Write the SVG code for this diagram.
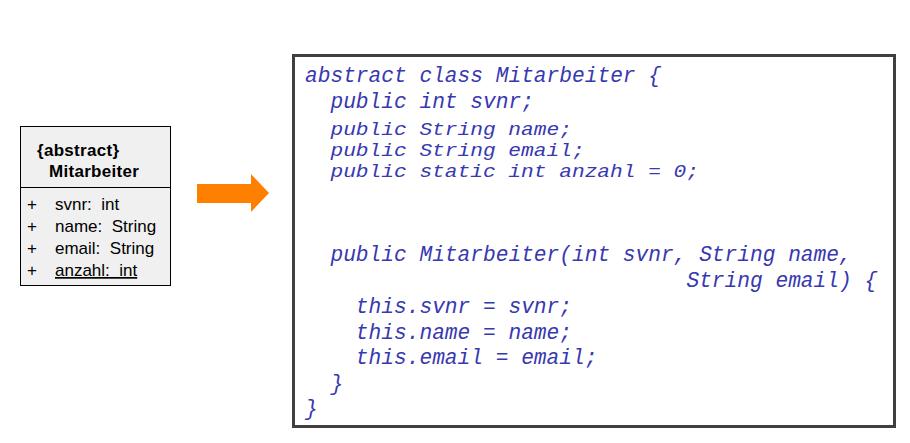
<svg xmlns="http://www.w3.org/2000/svg" width="910" height="443" viewBox="0 0 910 443">
<style>
.uml{font-family:"Liberation Sans",Arial,sans-serif;font-size:17px;fill:#000;white-space:pre}
.b{font-weight:bold;letter-spacing:0.3px}
.code{font-family:"Liberation Mono","Courier New",monospace;font-style:italic;font-size:21.2px;fill:#3838b0;white-space:pre}
</style>
<rect width="910" height="443" fill="#fff"/>
<g id="uml-class">
<rect x="20.5" y="126.5" width="150" height="159" fill="#f0f0f0" stroke="#000" stroke-width="1"/>
<line x1="20.5" y1="187.5" x2="170.5" y2="187.5" stroke="#000" stroke-width="1"/>
<text class="uml b" x="37" y="156">{abstract}</text>
<text class="uml b" x="49" y="177">Mitarbeiter</text>
<text class="uml" x="27" y="210">+</text><text class="uml" x="55" y="210">svnr:  int</text>
<text class="uml" x="27" y="232">+</text><text class="uml" x="55" y="232">name:  String</text>
<text class="uml" x="27" y="254">+</text><text class="uml" x="55" y="254">email:  String</text>
<text class="uml" x="27" y="276">+</text><text class="uml" x="55" y="276" text-decoration="underline">anzahl:  int</text>
</g>
<g id="connectors">
<polygon points="197,184 251,184 251,174 269,193 251,212 251,203 197,203" fill="#ff8000"/>
</g>
<g id="code-box">
<rect x="293.5" y="55.5" width="601" height="371" fill="#fff" stroke="#404040" stroke-width="3"/>
<text class="code" x="305" y="82">abstract class Mitarbeiter {</text>
<text class="code" x="305" y="108">  public int svnr;</text>
<g transform="translate(305,135) scale(1,0.85)"><text class="code" x="0" y="0">  public String name;</text></g>
<g transform="translate(305,156) scale(1,0.85)"><text class="code" x="0" y="0">  public String email;</text></g>
<g transform="translate(305,177) scale(1,0.85)"><text class="code" x="0" y="0">  public static int anzahl = 0;</text></g>
<text class="code" x="305" y="261">  public Mitarbeiter(int svnr, String name,</text>
<text class="code" x="305" y="287">                              String email) {</text>
<text class="code" x="305" y="313">    this.svnr = svnr;</text>
<text class="code" x="305" y="339">    this.name = name;</text>
<text class="code" x="305" y="364">    this.email = email;</text>
<text class="code" x="305" y="390">  }</text>
<text class="code" x="305" y="415">}</text>
</g>
</svg>
